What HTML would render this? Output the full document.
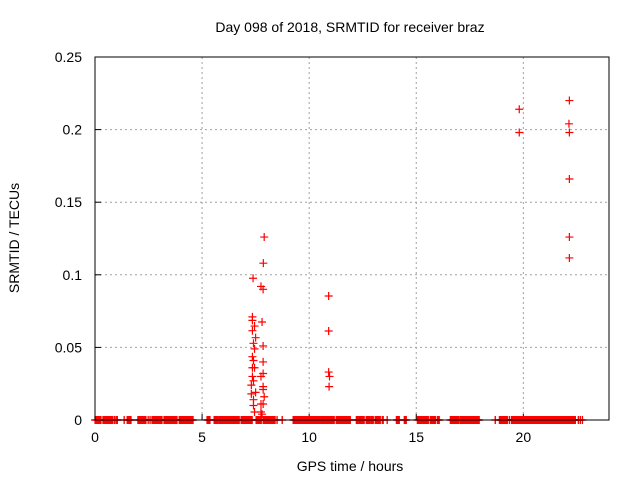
<!DOCTYPE html>
<html><head><meta charset="utf-8"><style>
html,body{margin:0;padding:0;background:#fff}
svg text{font-family:"Liberation Sans",sans-serif;font-size:14px;fill:#000}
</style></head><body>
<svg id="chart" width="640" height="480" viewBox="0 0 640 480" xmlns="http://www.w3.org/2000/svg">
<rect width="640" height="480" fill="#fff"/>
<g id="grid"></g>
<g id="ticks"></g>
<g id="marks"></g>
<rect x="95" y="57" width="514" height="363" fill="none" stroke="#000" stroke-width="1"/>
<text x="350" y="32" text-anchor="middle">Day 098 of 2018, SRMTID for receiver braz</text>
<text x="350" y="471" text-anchor="middle">GPS time / hours</text>
<text x="19" y="238" text-anchor="middle" transform="rotate(-90 19 238)">SRMTID / TECUs</text>
</svg>
<script>
const xTicks=[0,5,10,15,20];
const yTicks=[0,0.05,0.1,0.15,0.2,0.25];
const yTickLabels=["0","0.05","0.1","0.15","0.2","0.25"];
const pointHours=[7.9,7.86,7.38,7.75,7.85,7.35,7.35,7.8,7.45,7.35,7.5,7.4,7.45,7.85,7.35,7.4,7.85,7.35,7.45,7.85,7.35,7.75,7.4,7.3,7.85,7.85,7.5,7.3,7.9,7.4,7.75,7.85,7.4,7.45,7.75,7.8,10.91,10.91,10.91,10.95,10.93,19.81,19.81,22.15,22.13,22.15,22.15,22.15,22.15];
const pointValues=[0.126,0.108,0.0976,0.092,0.09,0.071,0.0686,0.0675,0.0647,0.0615,0.0567,0.0528,0.049,0.051,0.0436,0.041,0.04,0.036,0.036,0.032,0.03,0.03,0.027,0.024,0.023,0.021,0.019,0.018,0.016,0.014,0.011,0.011,0.01,0.0055,0.0055,0.004,0.0854,0.0613,0.033,0.03,0.023,0.214,0.198,0.22,0.204,0.198,0.166,0.126,0.1116];
const zeroRunStarts=[0,0.37,0.92,1.0,1.04,1.36,1.5,2.0,2.48,2.57,2.66,3.22,3.93,5.23,5.56,5.8,5.98,6.82,7.52,7.85,8.5,8.74,9.25,10.56,11.07,11.26,11.82,12.2,12.34,12.66,12.8,12.9,13.08,13.22,13.41,13.64,14.07,14.44,15.05,15.65,15.98,16.59,17.06,17.52,17.66,18.69,18.88,19.25,19.35,19.44,19.53,22.57,22.66,22.76];
const zeroRunEnds=[0.28,0.84,0.92,1.0,1.04,1.36,1.68,2.38,2.48,2.57,3.13,3.83,4.58,5.37,5.75,5.93,6.73,7.34,7.76,8.41,8.5,8.74,10.51,11.03,11.17,11.78,11.92,12.29,12.57,12.76,12.85,12.99,13.18,13.32,13.46,13.64,14.21,14.53,15.56,15.89,16.07,17.0,17.48,17.62,17.94,18.69,19.21,19.25,19.35,19.49,22.43,22.57,22.66,22.76];
const X0=95,X1=609,Y0=420,Y1=57,XMAX=24,YMAX=0.25;
function xs(h){return X0+(h/XMAX)*(X1-X0);}
function ys(v){return Y0-(v/YMAX)*(Y0-Y1);}
const NS="http://www.w3.org/2000/svg";
function mk(t,a,p){const e=document.createElementNS(NS,t);for(const k in a)e.setAttribute(k,a[k]);p.appendChild(e);return e;}
const grid=document.getElementById('grid'),ticks=document.getElementById('ticks'),marks=document.getElementById('marks');
xTicks.forEach((t,i)=>{const x=xs(t);
 if(t>0){const g=mk('line',{x1:x,x2:x,y1:Y1,y2:Y0,stroke:'#a0a0a0','stroke-dasharray':'2,3'},grid);
 
 }
 const tk=mk('line',{x1:x,x2:x,y1:Y0,y2:Y0-6,stroke:'#000'},ticks);
 
 
 const tx=mk('text',{x:x,y:Y0+22,'text-anchor':'middle'},ticks);tx.textContent=String(t);
 
 
});
yTicks.forEach((t,i)=>{const y=ys(t);
 if(t>0&&t<YMAX){const g=mk('line',{x1:X0,x2:X1,y1:y,y2:y,stroke:'#a0a0a0','stroke-dasharray':'2,3'},grid);
 
 }
 const tk=mk('line',{x1:X0,x2:X0+6,y1:y,y2:y,stroke:'#000'},ticks);
 
 
 const tx=mk('text',{x:X0-13,y:y+5,'text-anchor':'end'},ticks);tx.textContent=yTickLabels[i];
 
 
});
function plus(h,v){const x=xs(h),y=ys(v);
 const p=mk('path',{d:`M${x-4},${y}H${x+4}M${x},${y-4}V${y+4}`,stroke:'#ff0000','stroke-width':1.2,fill:'none'},marks);
 
 }
zeroRunStarts.forEach((s,i)=>{const e=zeroRunEnds[i];for(let h=s;h<=e+1e-9;h+=0.03)plus(h,0);plus(e,0);});
pointHours.forEach((h,i)=>plus(h,pointValues[i]));
</script>
</body></html>
